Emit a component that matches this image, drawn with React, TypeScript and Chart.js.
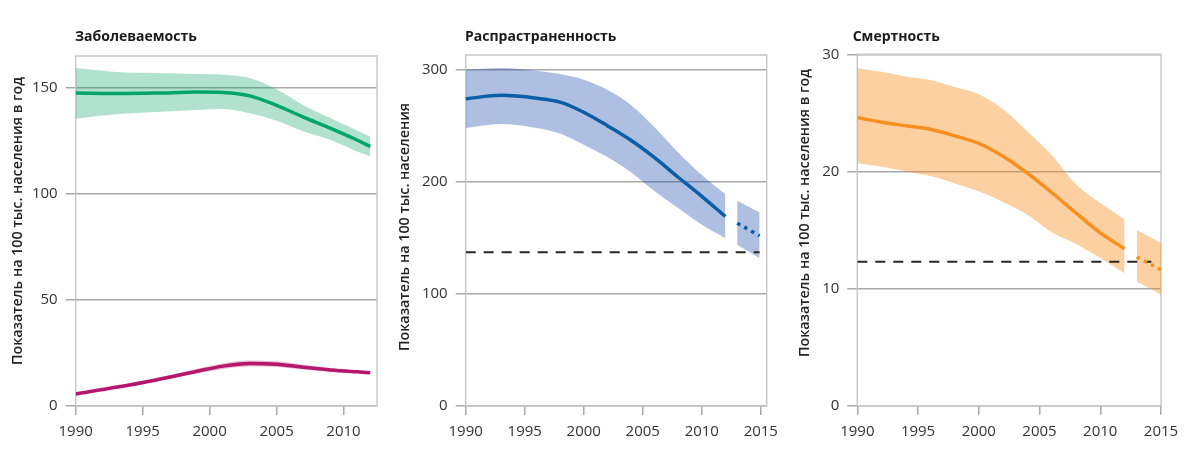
import React, { useEffect, useRef } from "react";
import { Chart, registerables } from "chart.js";
Chart.register(...registerables);

const FONT = "'Open Sans', 'Noto Sans', sans-serif";
const GRID = "#a8a8a8";
const BOX = "#c8c8c8";
const TICK_TEXT = "#333333";

// ---------- Panel 1: Заболеваемость ----------
const incTitle = "Заболеваемость";
const incAxisTitle = "Показатель на 100 тыс. населения в год";
const incXTicks = [1990, 1995, 2000, 2005, 2010];
const incYTicks = [0, 50, 100, 150];
const incYears = [1990, 1993, 1996, 1999, 2001, 2003, 2005, 2007, 2009, 2011, 2012];
const incMean = [147.5, 147.3, 147.5, 148, 147.8, 146.2, 141.7, 136.2, 131, 125.4, 122.3];
const incUpper = [159.3, 157.5, 157, 156.5, 156.2, 154.6, 149.3, 141.8, 135.8, 130, 127];
const incLower = [135.4, 137.5, 138.6, 139.6, 140, 138, 134.5, 129.5, 125.5, 120, 117.6];
const hivMean = [5.7, 8.8, 12.3, 16.3, 18.8, 20, 19.7, 18.3, 17, 16.1, 15.7];
const hivUpper = [6.1, 9.4, 13.1, 17.4, 20.2, 21.5, 21.1, 19.5, 17.9, 16.8, 16.4];
const hivLower = [5.3, 8.2, 11.5, 15.3, 17.5, 18.6, 18.4, 17.2, 16.2, 15.5, 15.1];

// ---------- Panel 2: Распрастраненность ----------
const prevTitle = "Распрастраненность";
const prevAxisTitle = "Показатель на 100 тыс. населения";
const prevXTicks = [1990, 1995, 2000, 2005, 2010, 2015];
const prevYTicks = [0, 100, 200, 300];
const prevYears = [1990, 1993, 1996, 1998, 2000, 2002, 2004, 2006, 2008, 2010, 2012];
const prevMean = [274, 277, 274.5, 271, 262, 250, 237, 221.5, 204, 187, 169];
const prevUpper = [300, 301.5, 299, 296, 291, 282, 268.5, 248.5, 226, 206, 189];
const prevLower = [248, 251.5, 248, 243, 233, 222, 208.5, 191.5, 176.5, 161.6, 149.7];
const prevProjYears = [2013, 2014.9];
const prevProjMean = [163, 151.8];
const prevProjUpper = [183, 172.6];
const prevProjLower = [143.8, 131.8];
const prevTargetYears = [1990, 2014.9];
const prevTarget = [137.2, 137.2];

// ---------- Panel 3: Смертность ----------
const mortTitle = "Смертность";
const mortAxisTitle = "Показатель на 100 тыс. населения в год";
const mortXTicks = [1990, 1995, 2000, 2005, 2010, 2015];
const mortYTicks = [0, 10, 20, 30];
const mortYears = [1990, 1992, 1994, 1996, 1998, 2000, 2002, 2004, 2006, 2008, 2010, 2012];
const mortMean = [24.6, 24.2, 23.9, 23.6, 23.05, 22.4, 21.3, 19.85, 18.2, 16.45, 14.75, 13.4];
const mortUpper = [28.8, 28.5, 28.1, 27.8, 27.2, 26.6, 25.3, 23.4, 21.4, 18.9, 17.3, 15.9];
const mortLower = [20.7, 20.4, 20, 19.6, 19.0, 18.3, 17.4, 16.3, 14.8, 13.8, 12.6, 11.3];
const mortProjYears = [2013, 2015];
const mortProjMean = [12.7, 11.6];
const mortProjUpper = [15.0, 13.9];
const mortProjLower = [10.6, 9.5];
const mortTargetYears = [1990, 2014.2];
const mortTarget = [12.28, 12.28];

const pts = (xs: number[], ys: number[]) => xs.map((x, i) => ({ x, y: ys[i] }));

const bandPair = (xs: number[], up: number[], lo: number[], color: string) => [
  {
    data: pts(xs, up),
    borderWidth: 0,
    pointRadius: 0,
    backgroundColor: color,
    fill: "+1",
    cubicInterpolationMode: "monotone",
    order: 5,
  },
  {
    data: pts(xs, lo),
    borderWidth: 0,
    pointRadius: 0,
    backgroundColor: color,
    fill: false,
    cubicInterpolationMode: "monotone",
    order: 5,
  },
];

const meanLine = (xs: number[], ys: number[], color: string, dash?: number[]) => ({
  data: pts(xs, ys),
  borderColor: color,
  borderWidth: 3.5,
  borderDash: dash || [],
  borderCapStyle: "butt",
  pointRadius: 0,
  fill: false,
  cubicInterpolationMode: "monotone",
  order: 1,
});

const targetLine = (xs: number[], ys: number[]) => ({
  data: pts(xs, ys),
  borderColor: "#262626",
  borderWidth: 2,
  borderDash: [10, 8],
  pointRadius: 0,
  fill: false,
  order: 2,
});

type PanelCfg = {
  left: number;
  width: number;
  area: { left: number; right: number; top: number; bottom: number };
  xMin: number;
  xMax: number;
  xTicks: number[];
  yMax: number;
  yTicks: number[];
  datasets: any[];
  title: string;
  titleX: number;
  axisTitle: string;
  axisTitleX: number;
  axisTitleY: number;
};

const decorPlugin = {
  id: "decor",
  beforeDatasetsDraw(chart: any) {
    const { ctx, chartArea } = chart;
    ctx.save();
    ctx.strokeStyle = BOX;
    ctx.lineWidth = 1.5;
    ctx.strokeRect(chartArea.left, chartArea.top, chartArea.right - chartArea.left, chartArea.bottom - chartArea.top);
    ctx.restore();
  },
  afterDraw(chart: any, _a: any, opts: any) {
    const { ctx } = chart;
    ctx.save();
    ctx.fillStyle = "#1a1a1a";
    ctx.font = `bold 14px ${FONT}`;
    ctx.textAlign = "left";
    ctx.textBaseline = "alphabetic";
    ctx.fillText(opts.title, opts.titleX, 41);
    ctx.translate(opts.axisTitleX, opts.axisTitleY);
    ctx.rotate(-Math.PI / 2);
    ctx.textAlign = "center";
    ctx.textBaseline = "middle";
    ctx.fillStyle = "#222";
    ctx.font = `600 14.3px ${FONT}`;
    ctx.fillText(opts.axisTitle, 0, 0);
    ctx.restore();
  },
};

function Panel({ cfg }: { cfg: PanelCfg }) {
  const ref = useRef<HTMLCanvasElement | null>(null);
  useEffect(() => {
    if (!ref.current) return;
    const H = 472;
    const chart = new Chart(ref.current, {
      type: "line",
      data: { datasets: cfg.datasets },
      plugins: [decorPlugin],
      options: {
        animation: false,
        responsive: false,
        maintainAspectRatio: false,
        layout: { padding: { top: cfg.area.top, right: cfg.width - cfg.area.right, left: 0, bottom: 0 } },
        plugins: {
          legend: { display: false },
          tooltip: { enabled: false },
          decor: {
            title: cfg.title,
            titleX: cfg.titleX,
            axisTitle: cfg.axisTitle,
            axisTitleX: cfg.axisTitleX,
            axisTitleY: cfg.axisTitleY,
          },
        } as any,
        scales: {
          x: {
            type: "linear",
            min: cfg.xMin,
            max: cfg.xMax,
            afterFit: (s: any) => {
              s.height = H - cfg.area.bottom;
            },
            afterBuildTicks: (s: any) => {
              s.ticks = cfg.xTicks.map((v) => ({ value: v }));
            },
            grid: { drawOnChartArea: false, color: GRID, lineWidth: 1.5, tickLength: 9 },
            border: { display: false },
            ticks: {
              color: TICK_TEXT,
              font: { family: FONT, size: 15 },
              padding: 8,
              maxRotation: 0,
              autoSkip: false,
              callback: (v: any) => String(v),
            },
          },
          y: {
            type: "linear",
            min: 0,
            max: cfg.yMax,
            afterFit: (s: any) => {
              s.width = cfg.area.left;
            },
            afterBuildTicks: (s: any) => {
              s.ticks = cfg.yTicks.map((v) => ({ value: v }));
            },
            grid: { color: GRID, lineWidth: 1.5, tickLength: 10 },
            border: { display: false },
            ticks: {
              color: TICK_TEXT,
              font: { family: FONT, size: 15 },
              padding: 8,
              autoSkip: false,
              callback: (v: any) => String(v),
            },
          },
        },
      } as any,
    });
    return () => chart.destroy();
  }, []);
  return (
    <canvas
      ref={ref}
      width={cfg.width}
      height={472}
      style={{ position: "absolute", left: cfg.left, top: 0, width: cfg.width, height: 472 }}
    />
  );
}

const panels: PanelCfg[] = [
  {
    left: 0,
    width: 390,
    area: { left: 75.7, right: 377, top: 56, bottom: 406 },
    xMin: 1990,
    xMax: 2012.5,
    xTicks: incXTicks,
    yMax: 165,
    yTicks: incYTicks,
    datasets: [
      meanLine(incYears, incMean, "#00a56b"),
      meanLine(incYears, hivMean, "#b5166e"),
      ...bandPair(incYears, incUpper, incLower, "rgba(0,160,95,0.3)"),
      ...bandPair(incYears, hivUpper, hivLower, "rgba(181,22,110,0.3)"),
    ],
    title: incTitle,
    titleX: 75,
    axisTitle: incAxisTitle,
    axisTitleX: 18,
    axisTitleY: 221,
  },
  {
    left: 390,
    width: 400,
    area: { left: 75.7, right: 376.7, top: 55, bottom: 406 },
    xMin: 1990,
    xMax: 2015.5,
    xTicks: prevXTicks,
    yMax: 313,
    yTicks: prevYTicks,
    datasets: [
      meanLine(prevYears, prevMean, "#0a5ea8"),
      meanLine(prevProjYears, prevProjMean, "#0a5ea8", [3.5, 4.5]),
      targetLine(prevTargetYears, prevTarget),
      ...bandPair(prevYears, prevUpper, prevLower, "rgba(20,70,170,0.345)"),
      ...bandPair(prevProjYears, prevProjUpper, prevProjLower, "rgba(20,70,170,0.345)"),
    ],
    title: prevTitle,
    titleX: 75,
    axisTitle: prevAxisTitle,
    axisTitleX: 15,
    axisTitleY: 227,
  },
  {
    left: 790,
    width: 410,
    area: { left: 67.3, right: 371, top: 54.3, bottom: 405.7 },
    xMin: 1990,
    xMax: 2015,
    xTicks: mortXTicks,
    yMax: 30,
    yTicks: mortYTicks,
    datasets: [
      meanLine(mortYears, mortMean, "#f7901e"),
      meanLine(mortProjYears, mortProjMean, "#f7901e", [3.5, 4.5]),
      targetLine(mortTargetYears, mortTarget),
      ...bandPair(mortYears, mortUpper, mortLower, "rgba(250,140,30,0.41)"),
      ...bandPair(mortProjYears, mortProjUpper, mortProjLower, "rgba(250,140,30,0.41)"),
    ],
    title: mortTitle,
    titleX: 62.7,
    axisTitle: mortAxisTitle,
    axisTitleX: 15,
    axisTitleY: 213,
  },
];

export default function App() {
  return (
    <div style={{ position: "fixed", left: 0, top: 0, width: 1200, height: 472, background: "#fff" }}>
      {panels.map((p, i) => (
        <Panel key={i} cfg={p} />
      ))}
    </div>
  );
}
